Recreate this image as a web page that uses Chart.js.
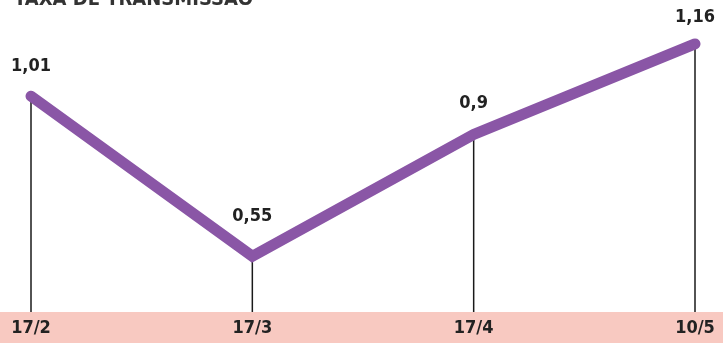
<!DOCTYPE html>
<html>
<head>
<meta charset="utf-8">
<script src="https://cdn.jsdelivr.net/npm/chart.js@4"></script>
<style>
  html, body { margin: 0; padding: 0; background: #fff; overflow: hidden; }
  #wrap { position: absolute; left: 0; top: -14px; width: 723px; height: 357px; }
</style>
</head>
<body>
<div id="wrap"><canvas id="chart"></canvas></div>
<script>
// dados
var titulo = "TAXA DE TRANSMISSÃO";
var datas = ["17/2", "17/3", "17/4", "10/5"];
var taxa = [1.01, 0.55, 0.9, 1.16];
var rotulos = ["1,01", "0,55", "0,9", "1,16"];

var fonte = "'DejaVu Sans Condensed', 'Liberation Sans Narrow', sans-serif";
var subida = [30, 40, 31, 27]; // distância do rótulo acima do ponto

// faixa rosa, linhas verticais, rótulos e título
const extras = {
    id: 'extras',
    beforeDraw(chart) {
        const ctx = chart.ctx;
        const area = chart.chartArea;
        ctx.save();
        ctx.fillStyle = '#f8c9c1';
        ctx.fillRect(0, area.bottom, chart.width, chart.height - area.bottom);
        ctx.fillStyle = '#333';
        ctx.font = "bold 20px " + fonte;
        ctx.textAlign = 'left';
        ctx.textBaseline = 'alphabetic';
        ctx.fillText(titulo, 14, 19);
        ctx.restore();
    },
    beforeDatasetsDraw(chart) {
        const ctx = chart.ctx;
        const area = chart.chartArea;
        const pts = chart.getDatasetMeta(0).data;
        ctx.save();
        ctx.strokeStyle = '#1a1a1a';
        ctx.lineWidth = 1.5;
        pts.forEach(p => {
            ctx.beginPath();
            ctx.moveTo(p.x, p.y);
            ctx.lineTo(p.x, area.bottom);
            ctx.stroke();
        });
        ctx.restore();
    },
    afterDatasetsDraw(chart) {
        const ctx = chart.ctx;
        const pts = chart.getDatasetMeta(0).data;
        ctx.save();
        ctx.fillStyle = '#222';
        ctx.font = "bold 18px " + fonte;
        ctx.textAlign = 'center';
        ctx.textBaseline = 'middle';
        pts.forEach((p, i) => {
            ctx.fillText(rotulos[i], p.x, p.y - subida[i]);
        });
        ctx.restore();
    }
};

const ctx = document.getElementById('chart').getContext('2d');
const chart = new Chart(ctx, {
    type: 'line',
    data: {
        labels: datas,
        datasets: [{
            data: taxa,
            borderColor: '#8a56a6',
            borderWidth: 11,
            borderCapStyle: 'round',
            borderJoinStyle: 'miter',
            pointRadius: 0,
            tension: 0,
            clip: false
        }]
    },
    options: {
        responsive: true,
        maintainAspectRatio: false,
        animation: false,
        layout: { padding: { top: 44, left: 31, right: 28, bottom: 4 } },
        plugins: {
            legend: { display: false },
            tooltip: { enabled: false }
        },
        scales: {
            x: {
                offset: false,
                grid: { display: false, drawTicks: false },
                border: { display: false },
                afterFit(scale) { scale.height = 27; },
                ticks: {
                    color: '#222',
                    font: { family: fonte, size: 18, weight: 'bold' },
                    padding: 6,
                    maxRotation: 0,
                    autoSkip: false
                }
            },
            y: {
                display: false,
                min: 0.39,
                max: 1.2
            }
        }
    },
    plugins: [extras]
});
</script>
</body>
</html>
